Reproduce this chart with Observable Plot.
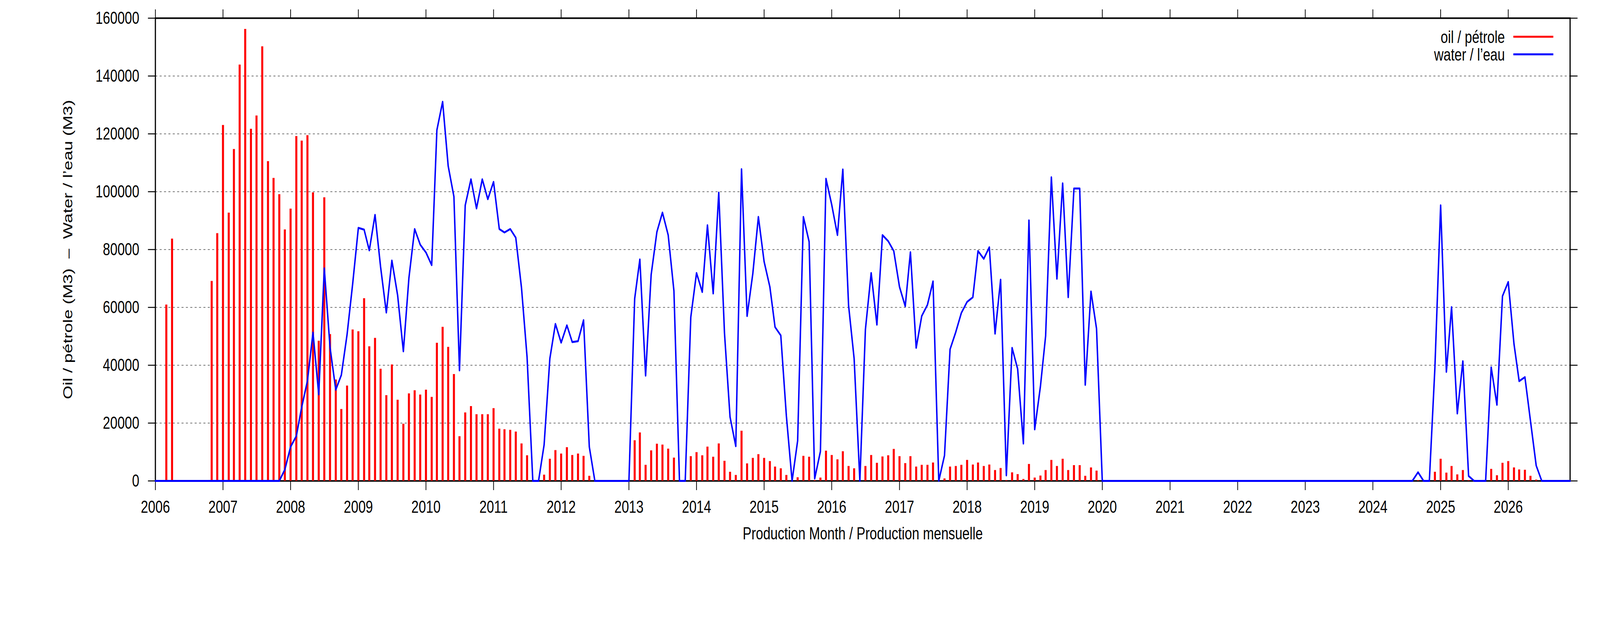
<!DOCTYPE html>
<html>
<head>
<meta charset="utf-8">
<script src="https://cdn.jsdelivr.net/npm/d3@7"></script>
<script src="https://cdn.jsdelivr.net/npm/@observablehq/plot@0.6"></script>
<style>
  html, body { margin: 0; padding: 0; background: #fff; width: 100%; height: 100%; overflow: hidden; }
  #chart { width: 100vw; height: 100vh; overflow: hidden; }
  #chart svg { display: block; width: 100vw; height: 100vh; }
</style>
</head>
<body>
<div id="chart"></div>
<script>
// Monthly values, January 2006 .. December 2026 (one row of 12 per year)
const firstYear = 2006;
const oil = [
  0,0,60900,83700,0,0,0,0,0,0,69100,85600,                                   // 2006
  123000,92700,114700,143900,156200,121700,126300,150200,110500,104700,99100,86900, // 2007
  94100,119200,117600,119500,99700,48400,98000,50700,35000,24800,32900,52300, // 2008
  51700,63100,46500,49400,38700,29600,40200,28000,19700,30200,31300,29800,    // 2009
  31500,29000,47700,53200,46300,36900,15400,23600,25800,23000,23000,23000,    // 2010
  25100,18000,17800,17600,17000,12900,8800,0,0,2100,7600,10600,               // 2011
  9400,11600,8900,9400,8600,1700,0,0,0,0,0,0,                                 // 2012
  0,14000,16700,5500,10500,12800,12500,11100,8000,0,0,8500,                   // 2013
  9900,8800,11800,8300,12900,6900,3100,2000,17300,6000,7900,9200,             // 2014
  7900,6800,4900,4300,2000,0,1200,8600,8300,200,1100,10400,                   // 2015
  8900,7400,10200,5100,4300,0,5100,8900,6200,8400,8800,11000,                 // 2016
  8500,6100,8500,4900,5500,5500,6300,0,800,4900,5100,5500,                    // 2017
  7200,5600,6300,5100,5600,3700,4400,200,2900,2300,600,5800,                  // 2018
  1100,1800,3700,7200,5100,7600,3700,5400,5400,1700,4600,3500,                // 2019
  0,0,0,0,0,0,0,0,0,0,0,0,                                                    // 2020
  0,0,0,0,0,0,0,0,0,0,0,0,                                                    // 2021
  0,0,0,0,0,0,0,0,0,0,0,0,                                                    // 2022
  0,0,0,0,0,0,0,0,0,0,0,0,                                                    // 2023
  0,0,0,0,0,0,0,0,200,0,0,3100,                                               // 2024
  7600,2800,5100,2200,3700,200,0,0,0,4100,1900,6200,                          // 2025
  6800,4600,3900,3800,1700,400,0,0,0,0,0,0                                    // 2026
];
const water = [
  0,0,0,0,0,0,0,0,0,0,0,0,                                                    // 2006
  0,0,0,0,0,0,0,0,0,0,0,3900,                                                 // 2007
  11800,15500,25500,34600,51300,29900,73500,46200,31500,36600,50600,68000,    // 2008
  87500,86900,79700,92000,74000,58200,76200,64200,44800,70200,87100,81700,    // 2009
  79000,74600,121300,131100,108900,98300,38200,95300,104300,94200,104300,97400, // 2010
  103400,87100,85900,87100,84100,66700,42800,0,0,12500,42300,54300,           // 2011
  47800,53800,48000,48300,55600,11800,0,0,0,0,0,0,                            // 2012
  0,63000,76600,36400,71300,86100,92800,85000,65700,0,0,56600,                // 2013
  71900,65300,88400,64800,99700,51100,22100,12000,107800,57000,71700,91300,   // 2014
  75800,67100,53200,50300,22600,0,13900,91300,82700,800,10200,104500,         // 2015
  95500,85000,107700,60700,42300,0,52400,71900,54000,85000,82900,79500,       // 2016
  67100,60400,79100,46000,57000,60900,69000,0,8800,45500,51500,58100,         // 2017
  61900,63500,79500,76800,80800,50900,69600,1900,46000,38700,12900,90100,     // 2018
  17800,32700,50100,105000,69900,102900,63500,101100,101100,33200,65500,52600, // 2019
  0,0,0,0,0,0,0,0,0,0,0,0,                                                    // 2020
  0,0,0,0,0,0,0,0,0,0,0,0,                                                    // 2021
  0,0,0,0,0,0,0,0,0,0,0,0,                                                    // 2022
  0,0,0,0,0,0,0,0,0,0,0,0,                                                    // 2023
  0,0,0,0,0,0,0,0,3000,0,0,39100,                                             // 2024
  95300,37700,60100,23300,41400,1700,0,0,0,39300,26300,63900,                 // 2025
  68800,47400,34500,35900,20800,5300,0,0,0,0,0,0                              // 2026
];
const yTicks = [0, 20000, 40000, 60000, 80000, 100000, 120000, 140000, 160000];
const gridValues = [20000, 40000, 60000, 80000, 100000, 120000, 140000];
const seriesNames = ["oil / pétrole", "water / l’eau"];
const seriesColors = ["#ff0000", "#0000ff"];
const xLabel = "Production Month / Production mensuelle";
const yLabel = "Oil / pétrole (M3)  –  Water / l’eau (M3)";

const monthDate = i => new Date(Date.UTC(firstYear, i, 1));
const oilData = oil.map((v, i) => ({date: monthDate(i), value: v})).filter(d => d.value > 0);
const waterData = water.map((v, i) => ({date: monthDate(i), value: v}));
const xDomain = [new Date(Date.UTC(2006, 0, 1)), new Date(Date.UTC(2026, 11, 1))];
const yearTicks = d3.utcYear.range(new Date(Date.UTC(2006, 0, 1)), new Date(Date.UTC(2027, 0, 1)));

const W = 5483, H = 1594;
const chart = Plot.plot({
  width: W,
  height: H,
  marginLeft: 532,
  marginRight: 103,
  marginTop: 46,
  marginBottom: 364,
  style: {fontFamily: "'Liberation Sans', Arial, Helvetica, sans-serif", fontSize: "45px", background: "#fff", color: "#000", overflow: "hidden"},
  x: {type: "utc", domain: xDomain},
  y: {domain: [0, 160000]},
  marks: [
    Plot.gridY(gridValues, {stroke: "#333", strokeOpacity: 0.9, strokeWidth: 1.5, strokeDasharray: "7,8"}),
    Plot.frame({stroke: "#000", strokeWidth: 4}),
    Plot.axisY({ticks: yTicks, tickSize: 25, tickPadding: 30, tickFormat: d => String(d), label: null, strokeWidth: 2.5}),
    Plot.axisY({anchor: "right", ticks: yTicks, tickSize: 25, tickFormat: () => "", label: null, strokeWidth: 2.5}),
    Plot.axisX({ticks: yearTicks, tickFormat: "%Y", tickSize: 24, tickPadding: 26, label: null, strokeWidth: 2.5}),
    Plot.axisX({anchor: "top", ticks: yearTicks, tickSize: 23, tickFormat: () => "", label: null, strokeWidth: 2.5}),
    Plot.ruleX(oilData, {x: "date", y1: 0, y2: "value", stroke: seriesColors[0], strokeWidth: 7}),
    Plot.line(waterData, {x: "date", y: "value", stroke: seriesColors[1], strokeWidth: 5}),
    Plot.text([xLabel], {text: d => d, frameAnchor: "bottom", dy: 135, textAnchor: "middle", lineAnchor: "middle", fontSize: 45}),
    Plot.text([yLabel], {text: d => d, frameAnchor: "left", dx: -299, rotate: -90, textAnchor: "middle", lineAnchor: "middle", fontSize: 45})
  ]
});
// fill the window whatever its actual size, keeping the 5483x1594 layout
chart.setAttribute("viewBox", `0 0 ${W} ${H}`);
chart.setAttribute("preserveAspectRatio", "none");
document.getElementById("chart").appendChild(chart);

// legend (top right, inside the frame)
const svg = d3.select(chart);
const lg = svg.append("g").attr("font-size", 45).attr("font-family", "'Liberation Sans', Arial, sans-serif");
seriesNames.forEach((name, i) => {
  const yb = 110 + i * 45;
  lg.append("text").attr("x", 5157).attr("y", yb).attr("text-anchor", "end").attr("fill", "#000").text(name);
  lg.append("line").attr("x1", 5186).attr("x2", 5323).attr("y1", yb - 16).attr("y2", yb - 16)
    .attr("stroke", seriesColors[i]).attr("stroke-width", 5);
});
</script>
</body>
</html>
